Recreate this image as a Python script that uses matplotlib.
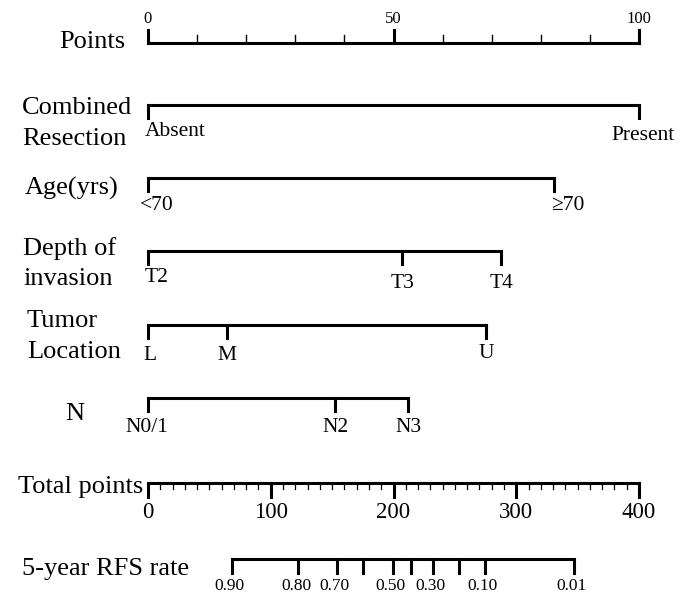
import matplotlib
matplotlib.use("Agg")
import matplotlib.pyplot as plt

# ---------------- data ----------------
points_ticks = list(range(0, 101, 10))
points_labels = {0: "0", 50: "50", 100: "100"}

row_titles = ["Combined\nResection", "Age(yrs)", "Depth of\ninvasion", "Tumor\nLocation", "N"]
combined_pts = [0, 100]
combined_lbl = ["Absent", "Present"]
age_pts = [0, 82.6]
age_lbl = ["<70", "\u226570"]
depth_pts = [0, 51.8, 71.8]
depth_lbl = ["T2", "T3", "T4"]
location_pts = [0, 16.0, 68.8]
location_lbl = ["L", "M", "U"]
n_pts = [0, 38.0, 53.0]
n_lbl = ["N0/1", "N2", "N3"]

total_ticks = list(range(0, 401, 10))
total_labels = [0, 100, 200, 300, 400]

rfs_values = [0.90, 0.80, 0.70, 0.60, 0.50, 0.40, 0.30, 0.20, 0.10, 0.01]
rfs_total_pts = [68.2, 122.4, 153.7, 175.4, 199.3, 214.0, 231.9, 253.6, 274.5, 347.0]
rfs_labelled = ["0.90", "0.80", "0.70", None, "0.50", None, "0.30", None, "0.10", "0.01"]

# ---------------- layout ----------------
W, H = 694, 594
PX0, PX100 = 148, 639          # pixel x of 0 and 100 points
scale = (PX100 - PX0) / 100.0
fig = plt.figure(figsize=(W / 100, H / 100), dpi=100)
ax = fig.add_axes([0, 0, 1, 1])
XMIN = -PX0 / scale
ax.set_xlim(XMIN, (W - PX0) / scale)
ax.set_ylim(H, 0)
ax.axis("off")

FONT = ["Liberation Serif", "DejaVu Serif"]
plt.rcParams["font.family"] = FONT
LW = 2.2
px = 1.0 / scale  # one pixel in points units
col = "black"
TITLE_FS = 19
CAT_FS = 15.5
DY = 3  # downward text nudge (va='center' includes descent)


def xpix(p):
    return XMIN + p * px


# Points axis
y_pts = 43
ax.plot([0, 100], [y_pts, y_pts], color=col, lw=LW, solid_capstyle="projecting")
for t in points_ticks:
    major = t in points_labels
    ax.plot([t, t], [y_pts, y_pts - (13 if major else 8)], color=col, lw=LW if major else 1.0)
    if major:
        ax.text(t, 19, points_labels[t], ha="center", va="center", fontsize=12, family=FONT)
ax.text(xpix(59), 38.5 + DY, "Points", ha="left", va="center", fontsize=TITLE_FS, family=FONT)

# Category rows: (points, labels, line y, [(dx px, ha, label y)], title x, [title line ys])
rows = [
    (combined_pts, combined_lbl, 105, [(-3, "left", 128), (4.5, "center", 132)], 22, [105, 136]),
    (age_pts, age_lbl, 178, [(-8, "left", 203), (-2, "left", 203)], 25, [185]),
    (depth_pts, depth_lbl, 251, [(9, "center", 275), (0, "center", 280), (1, "center", 280)], 23, [246, 276]),
    (location_pts, location_lbl, 325, [(2, "center", 353), (0, "center", 352), (1, "center", 351)], 27, [318, 349]),
    (n_pts, n_lbl, 398, [(-1, "center", 424), (1, "center", 424), (0, "center", 424)], 65, [411]),
]
for (pts, lbls, y, lab_pos, tx, tys), title in zip(rows, row_titles):
    ax.plot([min(pts), max(pts)], [y, y], color=col, lw=LW, solid_capstyle="projecting")
    for p, l, (dx, ha, ly) in zip(pts, lbls, lab_pos):
        ax.plot([p, p], [y, y + 13], color=col, lw=LW)
        ax.text(p + dx * px, ly + DY, l, ha=ha, va="center", fontsize=CAT_FS, family=FONT)
    for line, ty in zip(title.split("\n"), tys):
        ax.text(xpix(tx), ty + DY, line, ha="left", va="center", fontsize=TITLE_FS, family=FONT)

# Total points axis
y_tot = 483
ax.plot([0, 100], [y_tot, y_tot], color=col, lw=LW, solid_capstyle="projecting")
for t in total_ticks:
    major = t % 100 == 0
    ax.plot([t / 4, t / 4], [y_tot, y_tot + (14 if major else 6)], color=col,
            lw=LW if major else 0.9)
for t in total_labels:
    ax.text(t / 4, 513, str(t), ha="center", va="center", fontsize=16.5, family=FONT)
ax.text(xpix(143), 484 + DY, "Total points", ha="right", va="center", fontsize=TITLE_FS, family=FONT)

# RFS axis
y_rfs = 559
ax.plot([rfs_total_pts[0] / 4, rfs_total_pts[-1] / 4], [y_rfs, y_rfs], color=col, lw=LW,
        solid_capstyle="projecting")
for v, tp, l in zip(rfs_values, rfs_total_pts, rfs_labelled):
    ax.plot([tp / 4, tp / 4], [y_rfs, y_rfs + 14], color=col, lw=LW)
    if l is not None:
        ax.text(tp / 4 - 2 * px, 586, l, ha="center", va="center", fontsize=12.5, family=FONT)
ax.text(xpix(22), 566 + DY, "5-year RFS rate", ha="left", va="center", fontsize=TITLE_FS, family=FONT)

fig.savefig("out.png", dpi=100)
